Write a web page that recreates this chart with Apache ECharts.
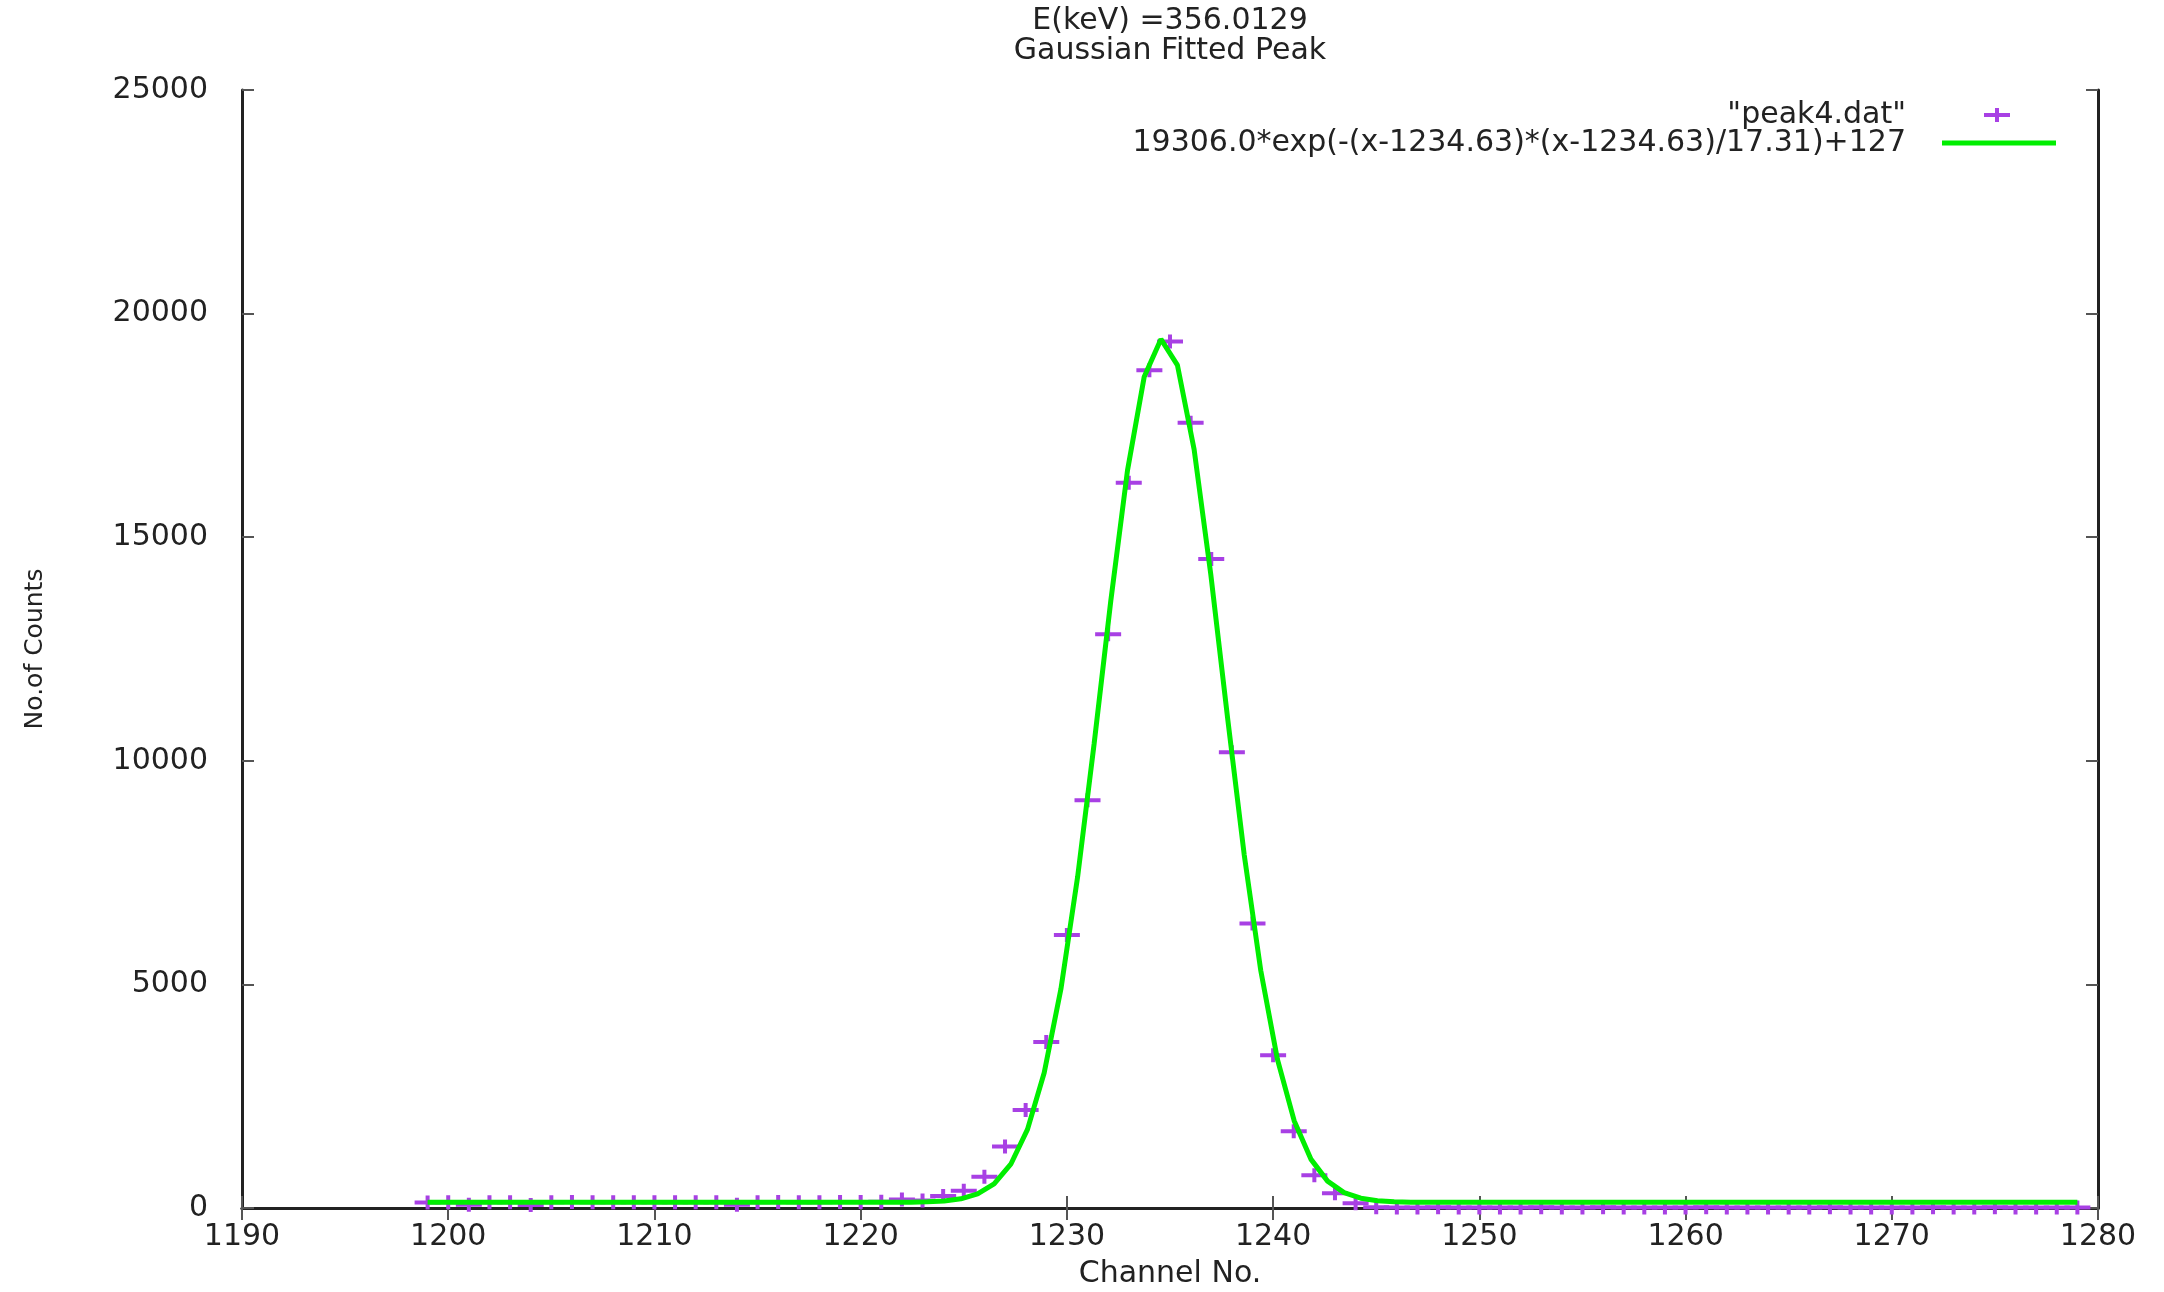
<!DOCTYPE html>
<html>
<head>
<meta charset="utf-8">
<title>Gaussian Fitted Peak</title>
<script src="https://cdn.jsdelivr.net/npm/echarts@6/dist/echarts.min.js"></script>
<style>
    html, body { margin: 0; padding: 0; background: #fff; }
    #PeakChart { width: 2164px; height: 1292px; }
</style>
</head>
<body>
<div id="PeakChart"></div>
<script>
// measured channels / counts ("peak4.dat")
var channels = [1199, 1200, 1201, 1202, 1203, 1204, 1205, 1206, 1207, 1208,
    1209, 1210, 1211, 1212, 1213, 1214, 1215, 1216, 1217, 1218,
    1219, 1220, 1221, 1222, 1223, 1224, 1225, 1226, 1227, 1228,
    1229, 1230, 1231, 1232, 1233, 1234, 1235, 1236, 1237, 1238,
    1239, 1240, 1241, 1242, 1243, 1244, 1245, 1246, 1247, 1248,
    1249, 1250, 1251, 1252, 1253, 1254, 1255, 1256, 1257, 1258,
    1259, 1260, 1261, 1262, 1263, 1264, 1265, 1266, 1267, 1268,
    1269, 1270, 1271, 1272, 1273, 1274, 1275, 1276, 1277, 1278, 1279];
var counts = [125, 130, 70, 130, 128, 65, 130, 132, 128, 130,
    127, 131, 129, 130, 128, 75, 130, 132, 129, 131,
    133, 135, 140, 190, 170, 270, 385, 696, 1378, 2193,
    3711, 6104, 9118, 12830, 16215, 18733, 19378, 17562, 14511, 10190,
    6362, 3415, 1718, 733, 330, 104, 15, 12, 10, 14,
    12, 9, 13, 11, 15, 10, 12, 14, 11, 13,
    10, 12, 15, 11, 9, 13, 12, 10, 14, 11,
    13, 12, 10, 15, 11, 12, 14, 10, 13, 12, 11];

// fitted curve
var fitX = [1199, 1222.43, 1223.24, 1224.05, 1224.86, 1225.67, 1226.47, 1227.28, 1228.09, 1228.90,
    1229.71, 1230.52, 1231.32, 1232.13, 1232.94, 1233.75, 1234.56, 1235.36, 1236.17, 1236.98,
    1237.79, 1238.60, 1239.40, 1240.21, 1241.02, 1241.83, 1242.64, 1243.44, 1244.25, 1245.06,
    1245.87, 1246.68, 1279];
var fitY = [127, 130, 138, 157, 205, 314, 539, 979, 1758, 3025,
    4896, 7403, 10378, 13581, 16497, 18589, 19428, 18848, 16962, 14160,
    10968, 7894, 5313, 3322, 1952, 1093, 601, 345, 219, 163,
    140, 131, 127];

var xTicks = [1190, 1200, 1210, 1220, 1230, 1240, 1250, 1260, 1270, 1280];
var yTicks = [0, 5000, 10000, 15000, 20000, 25000];

var dataName = '"peak4.dat"';
var fitName = '19306.0*exp(-(x-1234.63)*(x-1234.63)/17.31)+127';

RenderPeak();

function RenderPeak() {
    var dom = document.getElementById('PeakChart');
    var chart = echarts.init(dom, null, {renderer: 'canvas'});
    var font = 'DejaVu Sans';
    var cross = 'path://M0,5H26V9H0Z M11,0H15V14H11Z';

    var points = [];
    for (var i = 0; i < channels.length; i++) {
        points.push([channels[i], counts[i]]);
    }
    var fit = [];
    for (var j = 0; j < fitX.length; j++) {
        fit.push([fitX[j], fitY[j]]);
    }

    var frame = {show: true, lineStyle: {color: '#222', width: 3}};
    var ticks = {show: true, inside: true, length: 12, lineStyle: {color: '#555', width: 2}};
    var plain = function (v) { return String(v); };

    var option = {
        backgroundColor: '#fff',
        animation: false,
        title: {
            text: 'E(keV) =356.0129\nGaussian Fitted Peak',
            left: 1170,
            top: 6,
            padding: 0,
            textAlign: 'center',
            textStyle: {
                fontFamily: font,
                fontWeight: 'normal',
                fontSize: 30,
                lineHeight: 30,
                color: '#222'
            }
        },
        legend: [{
            data: [{name: dataName, icon: cross}],
            orient: 'vertical',
            align: 'right',
            right: 154,
            top: 99,
            padding: 0,
            itemWidth: 26,
            itemHeight: 14,
            selectedMode: false,
            textStyle: {fontFamily: font, fontSize: 30, lineHeight: 32, color: '#222', padding: [0, 73, 0, 0]}
        }, {
            data: [{name: fitName, icon: 'rect'}],
            orient: 'vertical',
            align: 'right',
            right: 108,
            top: 127,
            padding: 0,
            itemWidth: 114,
            itemHeight: 5,
            selectedMode: false,
            textStyle: {fontFamily: font, fontSize: 30, lineHeight: 32, color: '#222', padding: [0, 31, 0, 0]}
        }],
        grid: {left: 242, right: 66, top: 90, bottom: 84, containLabel: false, outerBoundsMode: 'none'},
        xAxis: [{
            type: 'value',
            min: xTicks[0],
            max: xTicks[xTicks.length - 1],
            interval: 10,
            name: 'Channel No.',
            nameLocation: 'middle',
            nameGap: 51,
            nameTextStyle: {fontFamily: font, fontSize: 30, color: '#222'},
            axisLine: frame,
            axisTick: ticks,
            splitLine: {show: false},
            axisLabel: {fontFamily: font, fontSize: 30, color: '#222', margin: 14, formatter: plain}
        }, {
            type: 'value',
            position: 'top',
            min: xTicks[0],
            max: xTicks[xTicks.length - 1],
            interval: 10,
            axisLine: frame,
            axisTick: ticks,
            splitLine: {show: false},
            axisLabel: {show: false}
        }],
        yAxis: [{
            type: 'value',
            min: yTicks[0],
            max: yTicks[yTicks.length - 1],
            interval: 5000,
            name: 'No.of Counts',
            nameLocation: 'middle',
            nameGap: 194,
            nameTextStyle: {fontFamily: font, fontSize: 25, color: '#222'},
            axisLine: frame,
            axisTick: ticks,
            splitLine: {show: false},
            axisLabel: {fontFamily: font, fontSize: 30, color: '#222', margin: 34, formatter: plain}
        }, {
            type: 'value',
            position: 'right',
            min: yTicks[0],
            max: yTicks[yTicks.length - 1],
            interval: 5000,
            axisLine: frame,
            axisTick: ticks,
            splitLine: {show: false},
            axisLabel: {show: false}
        }],
        series: [{
            name: dataName,
            type: 'scatter',
            data: points,
            symbol: cross,
            symbolSize: [26, 14],
            itemStyle: {color: '#a840e4', opacity: 1}
        }, {
            name: fitName,
            type: 'line',
            data: fit,
            showSymbol: false,
            smooth: false,
            lineStyle: {color: '#00ee00', width: 5},
            itemStyle: {color: '#00ee00'}
        }]
    };

    if (option && typeof option === 'object') {
        chart.setOption(option);
    }

    window.addEventListener('resize', function () {
        chart.resize();
    });
}
</script>
</body>
</html>
